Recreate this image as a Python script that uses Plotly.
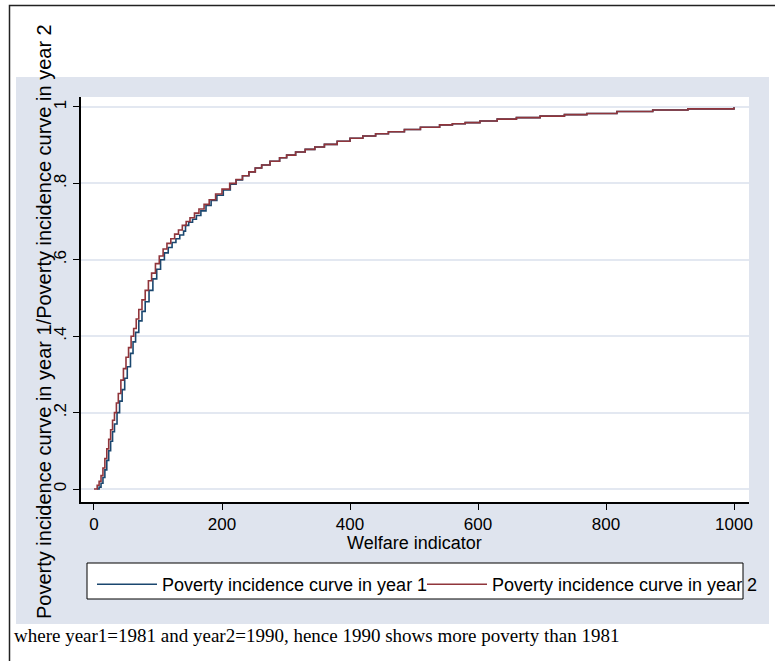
import plotly.graph_objects as go

# ---- data ----
welfare_year1 = [5, 8, 11, 14, 17, 20, 23, 26, 29, 32, 36, 40, 44, 48, 52, 57, 61, 65, 70, 75,
                 80, 86, 92, 98, 104, 110, 116, 122, 128, 134, 140, 143, 148, 154, 160, 167, 175,
                 183, 192, 202, 213, 222, 232, 242, 252, 262, 275, 290, 301, 315, 330, 345, 360,
                 380, 400, 420, 440, 460, 485, 510, 540, 560, 580, 603, 630, 660, 697, 735, 770,
                 817, 873, 928, 1000]
share_year1 = [0.0, 0.005, 0.015, 0.03, 0.05, 0.075, 0.1, 0.125, 0.15, 0.17, 0.2, 0.23, 0.26,
               0.29, 0.32, 0.355, 0.385, 0.41, 0.44, 0.465, 0.49, 0.52, 0.55, 0.575, 0.6, 0.618,
               0.632, 0.645, 0.655, 0.665, 0.675, 0.69, 0.698, 0.706, 0.716, 0.728, 0.742, 0.755,
               0.769, 0.783, 0.798, 0.809, 0.82, 0.83, 0.84, 0.848, 0.858, 0.867, 0.874, 0.882,
               0.889, 0.895, 0.902, 0.91, 0.918, 0.924, 0.93, 0.935, 0.941, 0.947, 0.953, 0.956,
               0.959, 0.963, 0.968, 0.972, 0.976, 0.98, 0.983, 0.988, 0.992, 0.995, 0.999]

welfare_year2 = [0, 2, 5, 8, 11, 14, 17, 20, 23, 26, 29, 32, 35, 38, 42, 46, 50, 54, 58, 62, 66,
                 70, 75, 80, 85, 90, 96, 102, 108, 114, 120, 126, 132, 138, 144, 150, 157, 164,
                 172, 180, 190, 200, 212, 222, 232, 242, 252, 262, 275, 290, 301, 315, 330, 345,
                 360, 380, 400, 420, 440, 460, 485, 510, 540, 560, 580, 603, 630, 660, 697, 735,
                 770, 817, 873, 928, 1000]
share_year2 = [0.0, 0.0, 0.01, 0.02, 0.035, 0.055, 0.08, 0.105, 0.13, 0.155, 0.18, 0.2, 0.225,
               0.25, 0.285, 0.315, 0.345, 0.37, 0.4, 0.42, 0.445, 0.47, 0.495, 0.52, 0.545,
               0.565, 0.59, 0.61, 0.628, 0.643, 0.655, 0.667, 0.678, 0.69, 0.7, 0.71, 0.722,
               0.733, 0.745, 0.757, 0.772, 0.785, 0.8, 0.81, 0.82, 0.83, 0.84, 0.848, 0.858,
               0.867, 0.874, 0.882, 0.889, 0.895, 0.902, 0.91, 0.918, 0.924, 0.93, 0.935, 0.941,
               0.947, 0.953, 0.956, 0.959, 0.963, 0.968, 0.972, 0.976, 0.98, 0.983, 0.988,
               0.992, 0.995, 0.999]

series_names = ["Poverty incidence curve in year 1", "Poverty incidence curve in year 2"]
x_ticks = [0, 200, 400, 600, 800, 1000]
y_ticks = [0, 0.2, 0.4, 0.6, 0.8, 1]
y_tick_labels = ["0", ".2", ".4", ".6", ".8", "1"]
x_title = "Welfare indicator"
y_title = "Poverty incidence curve in year 1/Poverty incidence curve in year 2"
note = "where year1=1981 and year2=1990, hence 1990 shows more poverty than 1981"

# ---- layout geometry (pixels) ----
W, H = 775, 661
PL, PR, PT, PB = 81, 749, 97, 502


def px(xp):
    return (xp - PL) / (PR - PL)


def py(yp):
    return (PB - yp) / (PB - PT)


FONT = "Liberation Sans, Arial, sans-serif"

fig = go.Figure()
fig.add_trace(go.Scatter(x=welfare_year1, y=share_year1, mode="lines", line_shape="hv",
                         line=dict(color="#1a476f", width=1.6), name=series_names[0],
                         legend="legend"))
fig.add_trace(go.Scatter(x=welfare_year2, y=share_year2, mode="lines", line_shape="hv",
                         line=dict(color="#90353b", width=1.6), name=series_names[1],
                         legend="legend2"))

region_col = "#dfe4ee"
shapes = [
    # graph region
    dict(type="rect", xref="paper", yref="paper", x0=px(16), x1=px(769), y0=py(624), y1=py(77),
         fillcolor=region_col, line=dict(width=0), layer="below"),
    # plot region
    dict(type="rect", xref="paper", yref="paper", x0=0, x1=1, y0=0, y1=1,
         fillcolor="white", line=dict(width=0), layer="below"),
    # legend box
    dict(type="rect", xref="paper", yref="paper", x0=px(87), x1=px(743), y0=py(599), y1=py(563),
         fillcolor="white", line=dict(color="black", width=1), layer="below"),
    # outer frame
    dict(type="rect", xref="paper", yref="paper", x0=px(9.5), x1=px(800), y0=py(700), y1=py(5.5),
         fillcolor="rgba(0,0,0,0)", line=dict(color="#222", width=1.5), layer="above"),
]

annotations = [
    dict(text=x_title, xref="paper", yref="paper", x=px(414), y=py(543), showarrow=False,
         xanchor="center", yanchor="middle", font=dict(family=FONT, size=18, color="black")),
    dict(text=y_title, xref="paper", yref="paper", x=px(44), y=py(322), showarrow=False,
         textangle=-90, xanchor="center", yanchor="middle",
         font=dict(family=FONT, size=20, color="black")),
    dict(text=note, xref="paper", yref="paper", x=px(12), y=py(635), showarrow=False,
         xanchor="left", yanchor="middle",
         font=dict(family="Liberation Serif, Times New Roman, serif", size=19, color="black")),
]

leg_common = dict(orientation="h", xanchor="left", yanchor="top",
                  bgcolor="rgba(0,0,0,0)", borderwidth=0, itemwidth=60,
                  font=dict(family=FONT, size=18, color="black"))

fig.update_layout(
    width=W, height=H,
    margin=dict(l=PL, r=W - PR, t=PT, b=H - PB, pad=0),
    paper_bgcolor="white", plot_bgcolor="white",
    font=dict(family=FONT, size=17, color="black"),
    shapes=shapes, annotations=annotations,
    showlegend=True,
    legend=dict(x=px(92), y=py(566), **leg_common),
    legend2=dict(x=px(422), y=py(566), **leg_common),
)
fig.update_xaxes(range=[-20.3, 1023.4], tickvals=x_ticks, ticks="outside", ticklen=6,
                 tickcolor="black", showline=True, linecolor="black", linewidth=1.5,
                 showgrid=False, zeroline=False, tickfont=dict(family=FONT, size=17))
fig.update_yaxes(range=[-0.034, 1.026], tickvals=y_ticks, ticktext=y_tick_labels,
                 ticks="outside", ticklen=6, tickcolor="black", tickangle=-90,
                 showline=True, linecolor="black", linewidth=1.5,
                 showgrid=True, gridcolor="#e3e8f1", gridwidth=1.5, zeroline=False,
                 tickfont=dict(family=FONT, size=17))

fig.write_html("out.html")
